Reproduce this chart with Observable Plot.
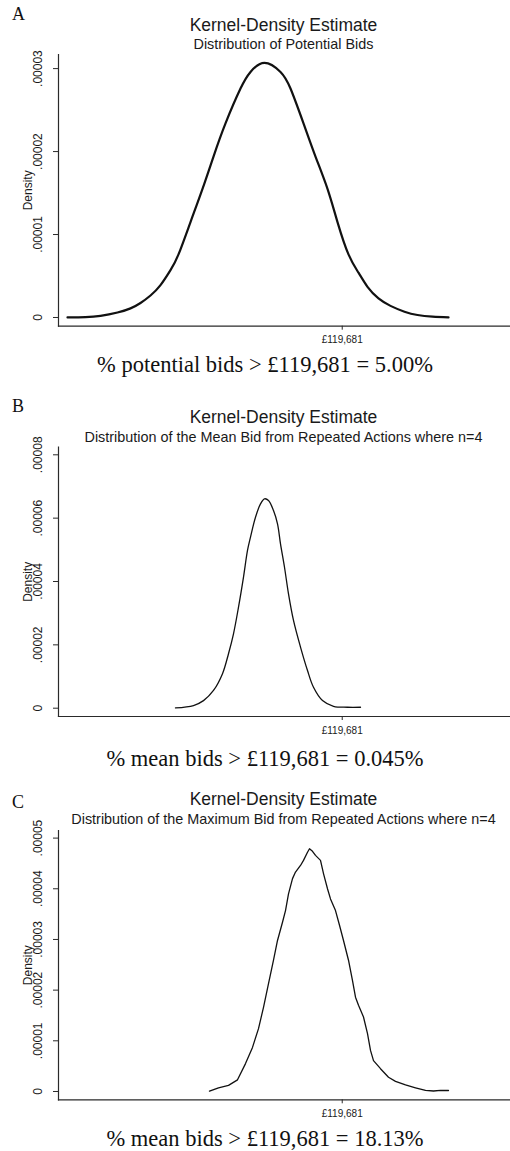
<!DOCTYPE html>
<html>
<head>
<meta charset="utf-8">
<script src="https://cdn.jsdelivr.net/npm/d3@7"></script>
<script src="https://cdn.jsdelivr.net/npm/@observablehq/plot@0.6"></script>
<style>
  html, body { margin: 0; padding: 0; background: #fff; }
  #page { position: relative; width: 510px; height: 1151px; overflow: hidden; background: #fff; }
  #page > svg { position: absolute; left: 0; }
</style>
</head>
<body>
<div id="page"></div>
<script>
// ---------- data ----------
const xTicks = [119681];
const xDomain = [48750, 161750];

// Panel A: distribution of potential bids
const potentialX = [51000, 55500, 59250, 63500, 66750, 69250, 71750, 74250, 76750, 78750, 81750, 84750, 87500, 90500, 94250, 96750, 100250, 104250, 106750, 110000, 113000, 116000, 118500, 121250, 123750, 126000, 128750, 131750, 135250, 138500, 142250, 146250];
const potentialDensity = [0.00000001, 0.00000005, 0.0000002, 0.0000006, 0.0000011, 0.00000175, 0.00000265, 0.0000039, 0.0000057, 0.0000076, 0.0000115, 0.0000155, 0.0000194, 0.0000234, 0.0000276, 0.0000296, 0.0000307, 0.0000296, 0.0000276, 0.0000234, 0.0000194, 0.0000155, 0.0000115, 0.0000076, 0.0000054, 0.0000037, 0.0000023, 0.0000014, 0.0000007, 0.0000003, 0.0000001, 0.00000001];
const potentialTicks = [0, 0.00001, 0.00002, 0.00003];

// Panel B: mean bid, n=4
const meanX = [78000, 82500, 85000, 87500, 89750, 91250, 92500, 93750, 95000, 96000, 96750, 98000, 99250, 100250, 101250, 102500, 103500, 104250, 105250, 106250, 107500, 109250, 111000, 112500, 114750, 117500, 121000, 124250];
const meanDensity = [0.0000001, 0.00000085, 0.0000024, 0.0000056, 0.0000109, 0.0000172, 0.0000235, 0.0000319, 0.0000414, 0.0000498, 0.000054, 0.0000603, 0.0000645, 0.0000661, 0.0000656, 0.0000624, 0.0000582, 0.0000519, 0.0000445, 0.0000361, 0.0000277, 0.0000193, 0.0000119, 0.0000066, 0.0000024, 0.0000006, 0.0000003, 0.0000003];
const meanTicks = [0, 0.00002, 0.00004, 0.00006, 0.00008];

// Panel C: maximum bid, n=4
const maxX = [86500, 88750, 91250, 93500, 95500, 97250, 98750, 100000, 101250, 102500, 103500, 104750, 105500, 106250, 107250, 108000, 109250, 110000, 111000, 111500, 112250, 113000, 114250, 115000, 116000, 116750, 118000, 119000, 120000, 121250, 122250, 123000, 123750, 125000, 126000, 126750, 127500, 129250, 131250, 133000, 135500, 138000, 140500, 142500, 144250, 146250];
const maxDensity = [0.00000006, 0.00000073, 0.0000012, 0.0000023, 0.0000055, 0.0000087, 0.0000124, 0.0000166, 0.0000213, 0.0000259, 0.0000298, 0.0000334, 0.0000357, 0.000039, 0.000042, 0.0000433, 0.0000446, 0.0000456, 0.0000472, 0.0000479, 0.0000474, 0.0000466, 0.0000456, 0.000043, 0.00004, 0.000038, 0.0000357, 0.0000328, 0.0000298, 0.0000259, 0.0000219, 0.0000186, 0.000017, 0.0000147, 0.0000114, 0.0000081, 0.0000061, 0.0000045, 0.0000028, 0.000002, 0.0000013, 0.00000073, 0.0000002, 0.0000001, 0.0000002, 0.0000002];
const maxTicks = [0, 0.00001, 0.00002, 0.00003, 0.00004, 0.00005];

const panelLetters = ["A", "B", "C"];
const titles = ["Kernel-Density Estimate", "Kernel-Density Estimate", "Kernel-Density Estimate"];
const subtitles = [
  "Distribution of Potential Bids",
  "Distribution of the Mean Bid from Repeated Actions where n=4",
  "Distribution of the Maximum Bid from Repeated Actions where n=4"
];
const captions = [
  "% potential bids > £119,681 = 5.00%",
  "% mean bids > £119,681 = 0.045%",
  "% mean bids > £119,681 = 18.13%"
];
const yLabel = "Density";

// ---------- drawing ----------
const SANS = "'Liberation Sans', Arial, Helvetica, sans-serif";
const SERIF = "'Liberation Serif', 'Times New Roman', serif";
const fmtY = d => d === 0 ? "0" : d3.format(".5f")(d).replace(/^0/, "");
const fmtX = d => "£" + d3.format(",")(d);
const zip = (xs, ys) => xs.map((x, i) => ({x, density: ys[i]}));

const panels = [
  {data: zip(potentialX, potentialDensity), ticks: potentialTicks, yDomain: [-0.00000105, 0.0000317], top: 50, mt: 4, mb: 24.3, sw: 2.2, curve: "natural"},
  {data: zip(meanX, meanDensity), ticks: meanTicks, yDomain: [-0.00000262, 0.0000824], top: 440, mt: 6.7, mb: 24, sw: 1.3, curve: "catmull-rom"},
  {data: zip(maxX, maxDensity), ticks: maxTicks, yDomain: [-0.00000164, 0.0000515], top: 825, mt: 5, mb: 25.7, sw: 1.3, curve: "linear"}
];

const page = document.getElementById("page");

panels.forEach(p => {
  const svg = Plot.plot({
    width: 510,
    height: 300,
    marginLeft: 58,
    marginRight: 0,
    marginTop: p.mt,
    marginBottom: p.mb,
    style: {background: "transparent", overflow: "visible", fontFamily: SANS, color: "#1a1a1a"},
    x: {domain: xDomain},
    y: {domain: p.yDomain},
    marks: [
      Plot.frame({anchor: "left", stroke: "#2a2a2a", strokeWidth: 1.2}),
      Plot.frame({anchor: "bottom", stroke: "#2a2a2a", strokeWidth: 1.2}),
      Plot.axisY({ticks: p.ticks, tickSize: 5, tickRotate: -90, lineAnchor: "middle", tickPadding: 15, tickFormat: fmtY, fontSize: 12, label: null, stroke: "#2a2a2a"}),
      Plot.axisX({ticks: xTicks, tickSize: 4, tickPadding: 6, tickFormat: fmtX, fontSize: 10, label: null, stroke: "#2a2a2a"}),
      Plot.text([yLabel], {frameAnchor: "left", textAnchor: "middle", rotate: -90, dx: -30, fontSize: 12, fill: "#1a1a1a"}),
      Plot.line(p.data, {x: "x", y: "density", stroke: "#111", strokeWidth: p.sw, curve: p.curve})
    ]
  });
  svg.style.top = p.top + "px";
  page.appendChild(svg);
});

// titles, subtitles, panel letters and captions
const overlay = d3.create("svg").attr("width", 510).attr("height", 1151).style("top", "0px").style("left", "0px").style("position", "absolute");
const letterY = [20, 412, 808];
const titleY = [31, 422.5, 805];
const subY = [48.5, 441.5, 824.3];
const capY = [372.3, 765.7, 1146];
for (let i = 0; i < 3; i++) {
  overlay.append("text").attr("x", 12).attr("y", letterY[i]).attr("font-family", SERIF).attr("font-size", 18).attr("fill", "#111").text(panelLetters[i]);
  overlay.append("text").attr("x", 283.5).attr("y", titleY[i]).attr("text-anchor", "middle").attr("font-family", SANS).attr("font-size", 17.5).attr("fill", "#1a1a1a").text(titles[i]);
  overlay.append("text").attr("x", 283.5).attr("y", subY[i]).attr("text-anchor", "middle").attr("font-family", SANS).attr("font-size", 14.4).attr("fill", "#1a1a1a").text(subtitles[i]);
  overlay.append("text").attr("x", 265).attr("y", capY[i]).attr("text-anchor", "middle").attr("font-family", SERIF).attr("font-size", 22.5).attr("fill", "#111").text(captions[i]);
}
page.appendChild(overlay.node());
</script>
</body>
</html>
